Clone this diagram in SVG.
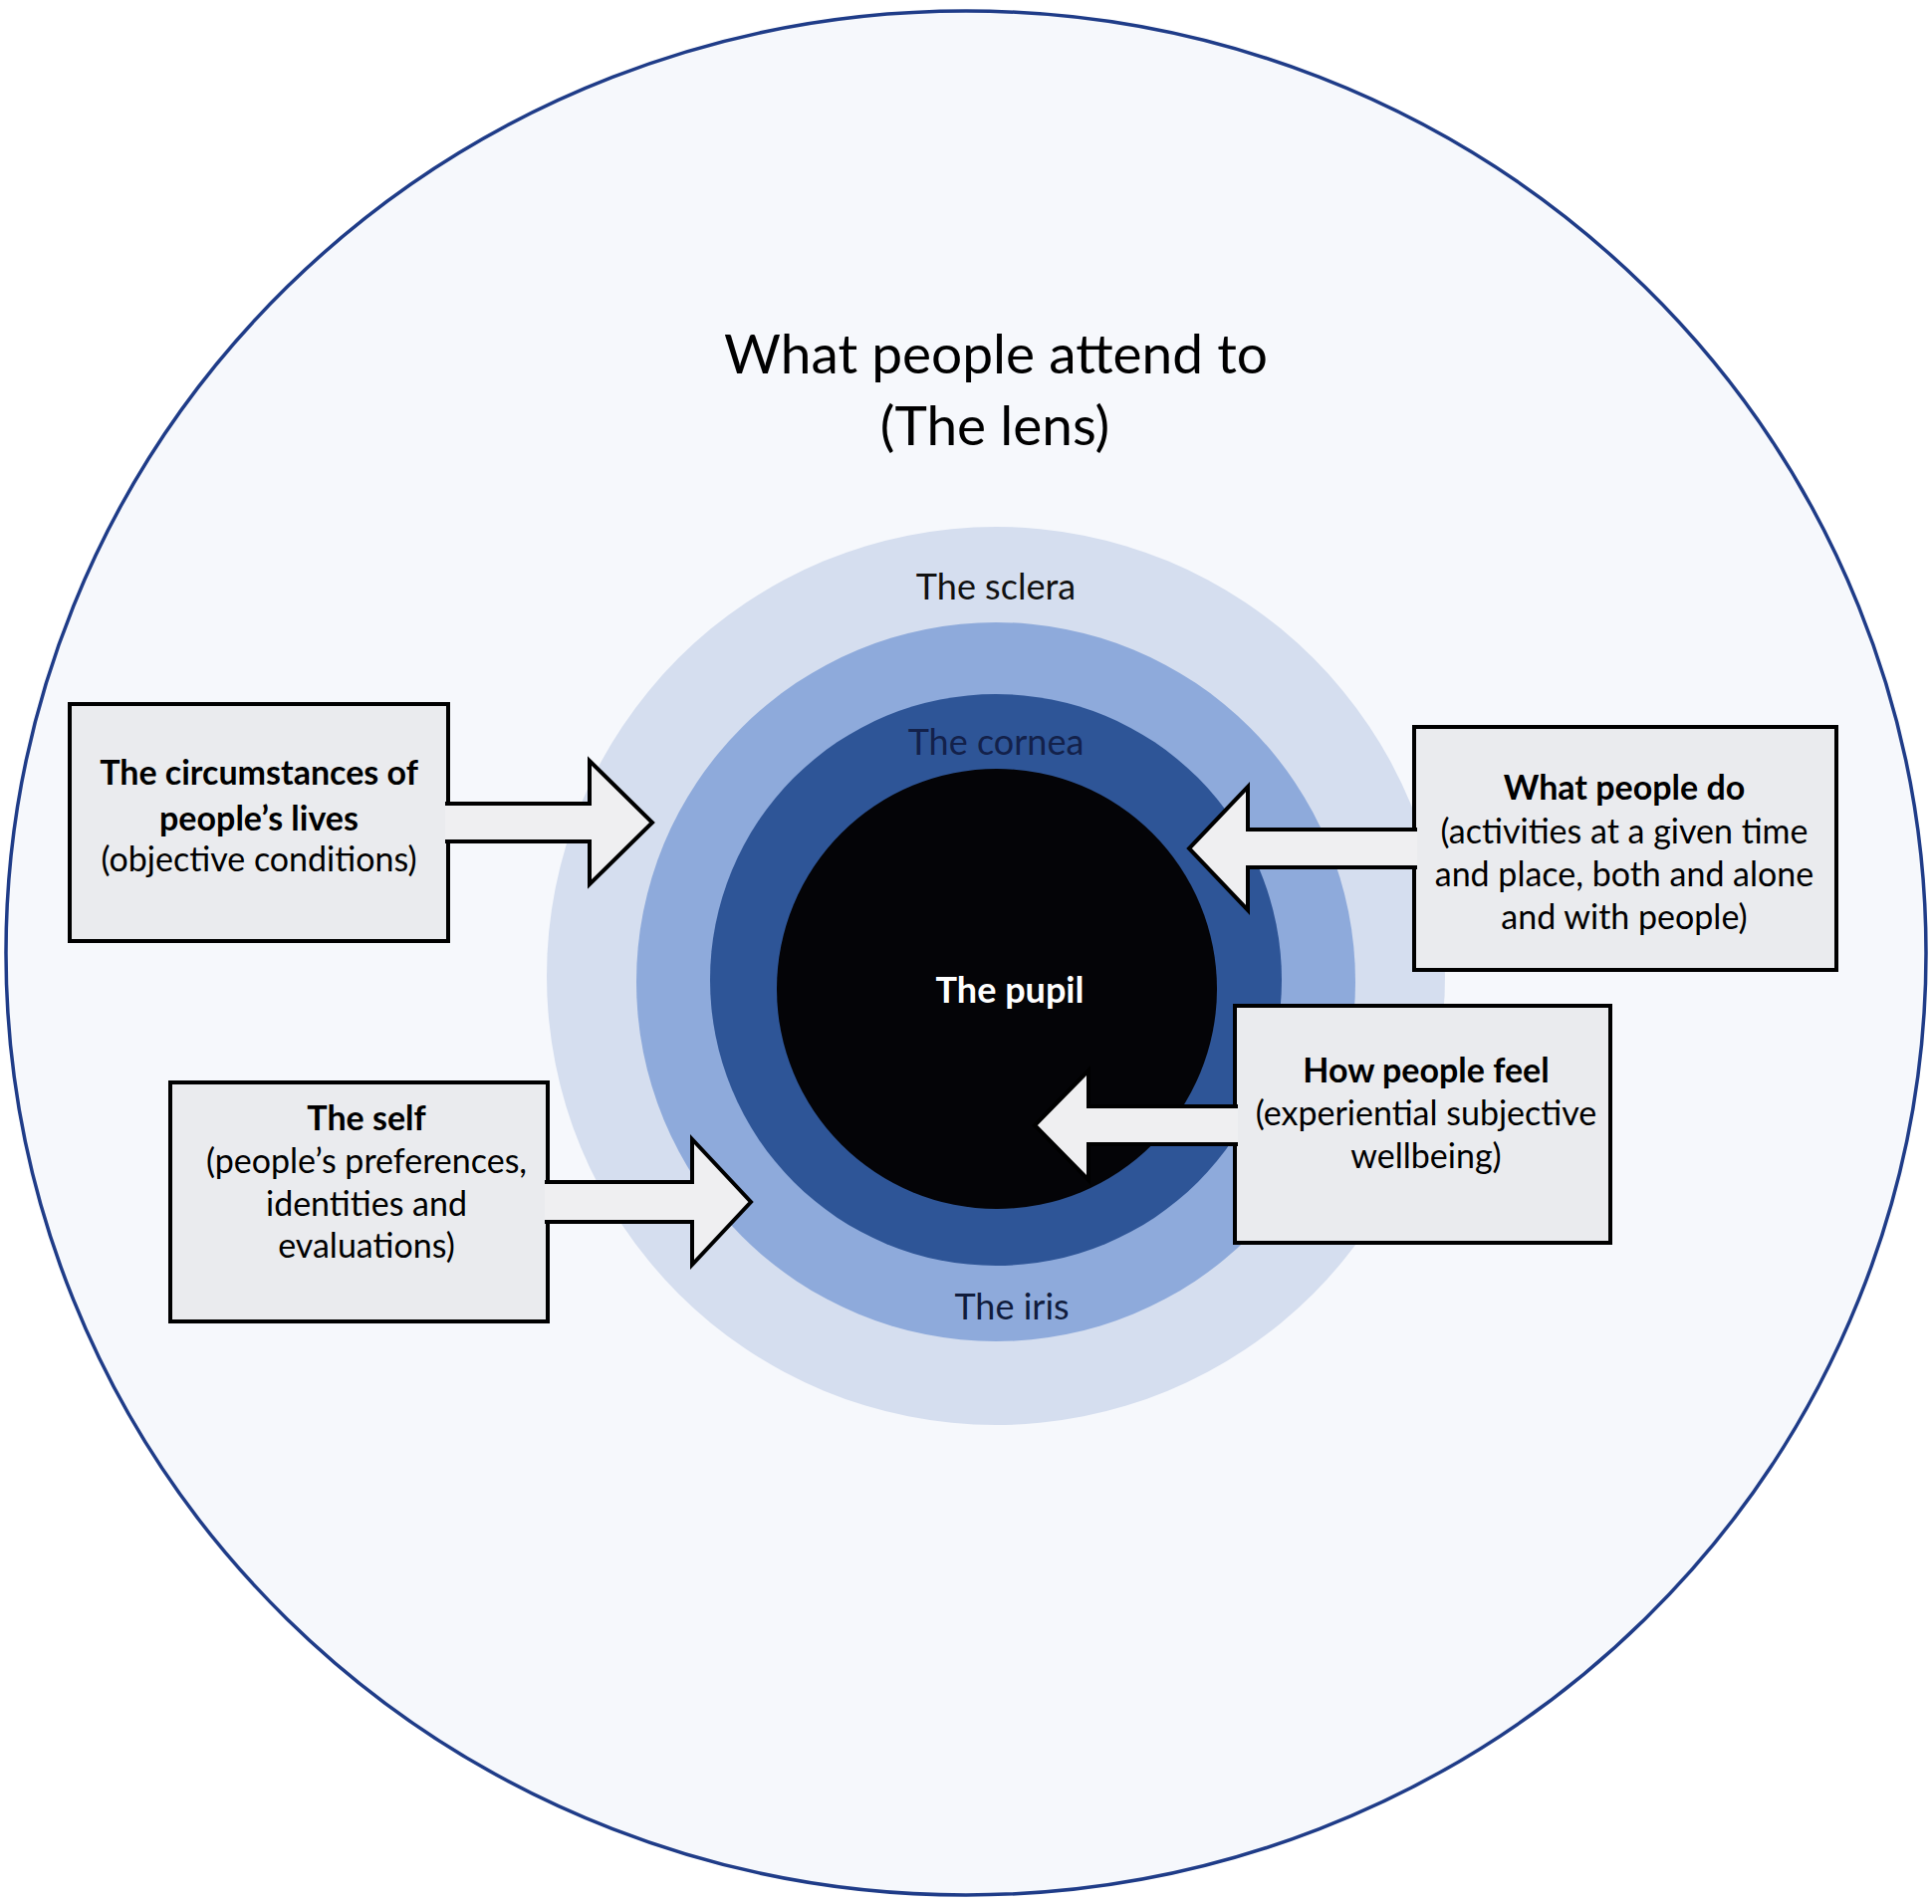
<svg xmlns="http://www.w3.org/2000/svg" width="1940" height="1912" viewBox="0 0 1940 1912">
<style>
  text { font-family: Lato, "Open Sans", "Liberation Sans", sans-serif; text-anchor: middle; }
  .title { font-size: 55px; fill: #000; }
  .ring { font-size: 36px; }
  .bx { font-size: 34px; fill: #000; }
  .b { font-weight: bold; }
  .box { fill: #eaebee; stroke: #000; stroke-width: 4; }
  .arrow { fill: #efeff1; stroke: #000; stroke-width: 4; stroke-linejoin: miter; }
</style>
<rect x="0" y="0" width="1940" height="1912" fill="#ffffff"/>
<g id="lens">
  <ellipse cx="970" cy="957" rx="964" ry="946" fill="#f6f8fc" stroke="#1f3c88" stroke-width="3.5"/>
  <text class="title" x="1000" y="375">What people attend to</text>
  <text class="title" x="999" y="447">(The lens)</text>
</g>
<g id="sclera">
  <circle cx="1000" cy="980" r="451" fill="#d5deef"/>
  <text class="ring" x="1000" y="602" fill="#111111">The sclera</text>
</g>
<g id="iris">
  <circle cx="1000" cy="986" r="361" fill="#8eaadb"/>
  <text class="ring" x="1016" y="1325" fill="#101c3c">The iris</text>
</g>
<g id="cornea">
  <circle cx="1000" cy="984" r="287" fill="#2e5597"/>
  <text class="ring" x="1000" y="758" fill="#13214a">The cornea</text>
</g>
<g id="pupil">
  <circle cx="1001" cy="993" r="221" fill="#040407"/>
  <text class="ring b" x="1014" y="1007" fill="#ffffff">The pupil</text>
</g>
<g id="circumstances">
  <rect class="box" x="70" y="707" width="380" height="238"/>
  <text class="bx b" x="260" y="788">The circumstances of</text>
  <text class="bx b" x="260" y="834">people’s lives</text>
  <text class="bx" x="260" y="875">(objective conditions)</text>
</g>
<g id="what-people-do">
  <rect class="box" x="1420" y="730" width="424" height="244"/>
  <text class="bx b" x="1631" y="803">What people do</text>
  <text class="bx" x="1631" y="847">(activities at a given time</text>
  <text class="bx" x="1631" y="890">and place, both and alone</text>
  <text class="bx" x="1631" y="933">and with people)</text>
</g>
<g id="self">
  <rect class="box" x="171" y="1087" width="379" height="240"/>
  <text class="bx b" x="368" y="1135">The self</text>
  <text class="bx" x="368" y="1178">(people’s preferences,</text>
  <text class="bx" x="368" y="1221">identities and</text>
  <text class="bx" x="368" y="1263">evaluations)</text>
</g>
<g id="how-people-feel">
  <rect class="box" x="1240" y="1010" width="377" height="238"/>
  <text class="bx b" x="1432" y="1087">How people feel</text>
  <text class="bx" x="1432" y="1130">(experiential subjective</text>
  <text class="bx" x="1432" y="1173">wellbeing)</text>
</g>
<g id="connectors">
  <path class="arrow" d="M447,807 H592 V764 L655,826 L592,888 V845 H447"/>
  <path class="arrow" d="M1423,833 H1253 V790 L1194,852 L1253,914 V871 H1423"/>
  <path class="arrow" d="M547,1187 H695 V1144 L754,1207 L695,1270 V1227 H547"/>
  <path class="arrow" d="M1243,1111 H1093 V1075 L1039,1130 L1093,1185 V1149 H1243"/>
</g>
</svg>
